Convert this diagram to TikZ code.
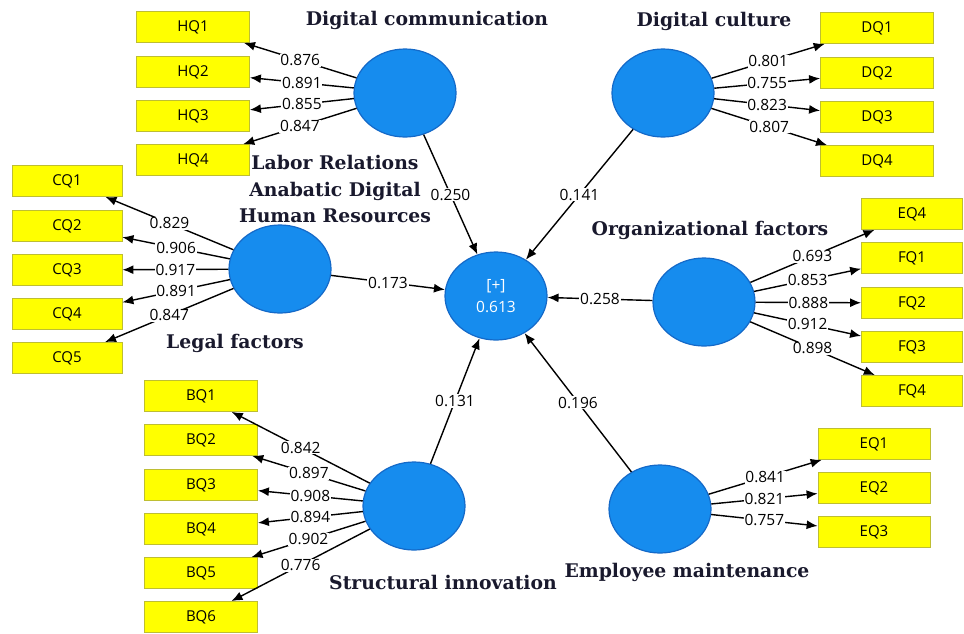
\documentclass[tikz,border=0pt]{standalone}
\usepackage{fontspec}
\setmainfont{DejaVu Serif}
\newfontfamily\lblfont{Open Sans}
\usetikzlibrary{arrows.meta,shapes.geometric}
\definecolor{lvfill}{RGB}{22,140,238}
\definecolor{lvdraw}{RGB}{20,105,200}
\definecolor{boxfill}{RGB}{255,255,0}
\definecolor{boxdraw}{RGB}{190,190,50}
\definecolor{ttl}{RGB}{25,25,45}
\begin{document}
\begin{tikzpicture}[x=1pt,y=-1pt,
  lv/.style={shape=ellipse, draw=lvdraw, line width=1.2pt, fill=lvfill, minimum width=102pt, minimum height=88pt, inner sep=0pt},
  ind/.style={draw=boxdraw, line width=0.8pt, fill=boxfill, minimum width=113pt, minimum height=31pt, inner sep=0pt, font=\lblfont\fontsize{15}{15}\selectfont},
  ld/.style={-{Latex[length=11pt,width=9pt]}, line width=1.4pt},
  val/.style={midway, fill=white, inner sep=0.8pt, font=\lblfont\fontsize{15.5}{15.5}\selectfont},
  ttlbox/.style={font=\bfseries\fontsize{18.8}{26.5}\selectfont, text=ttl, align=center, inner sep=0pt}
]
\useasboundingbox (0,0) rectangle (964,633);

% latent variables
\node[lv] (dcom) at (405,93) {};
\node[lv] (dcul) at (663,93) {};
\node[lv] (legal) at (280,269) {};
\node[lv, font=\lblfont\fontsize{15.5}{22}\selectfont, text=white, align=center] (cen) at (496,296) {[+]\\0.613};
\node[lv] (org) at (704,302) {};
\node[lv] (stru) at (414,506) {};
\node[lv] (emp) at (660,509) {};

% titles
\node[ttlbox] (t1) at (427,20) {Digital communication};
\node[ttlbox] (t2) at (714,21) {Digital culture};
\node[ttlbox] (t3) at (335,189) {Labor Relations\\Anabatic Digital\\Human Resources};
\node[ttlbox] (t4) at (710,230) {Organizational factors};
\node[ttlbox] (t5) at (235,343) {Legal factors};
\node[ttlbox] (t6) at (443,582) {Structural innovation};
\node[ttlbox] (t7) at (687,572) {Employee maintenance};

% indicators
\node[ind] (hq1) at (193,27) {HQ1};
\node[ind] (hq2) at (193,72) {HQ2};
\node[ind] (hq3) at (193,116) {HQ3};
\node[ind] (hq4) at (193,160) {HQ4};

\node[ind] (dq1) at (877,28) {DQ1};
\node[ind] (dq2) at (877,73) {DQ2};
\node[ind] (dq3) at (877,117) {DQ3};
\node[ind] (dq4) at (877,161) {DQ4};

\node[ind, minimum width=110pt] (cq1) at (67,181) {CQ1};
\node[ind, minimum width=110pt] (cq2) at (67,226) {CQ2};
\node[ind, minimum width=110pt] (cq3) at (67,270) {CQ3};
\node[ind, minimum width=110pt] (cq4) at (67,314) {CQ4};
\node[ind, minimum width=110pt] (cq5) at (67,358) {CQ5};

\node[ind, minimum width=101pt] (eq4) at (912,214) {EQ4};
\node[ind, minimum width=101pt] (fq1) at (912,258) {FQ1};
\node[ind, minimum width=101pt] (fq2) at (912,303) {FQ2};
\node[ind, minimum width=101pt] (fq3) at (912,347) {FQ3};
\node[ind, minimum width=101pt] (fq4) at (912,391) {FQ4};

\node[ind] (bq1) at (201,396) {BQ1};
\node[ind] (bq2) at (201,440) {BQ2};
\node[ind] (bq3) at (201,485) {BQ3};
\node[ind] (bq4) at (201,529) {BQ4};
\node[ind] (bq5) at (201,573) {BQ5};
\node[ind] (bq6) at (201,617) {BQ6};

\node[ind, minimum width=112pt] (eq1) at (874,444) {EQ1};
\node[ind, minimum width=112pt] (eq2) at (874,488) {EQ2};
\node[ind, minimum width=112pt] (eq3) at (874,532) {EQ3};

% outer loadings
\draw[ld] (dcom) -- node[val]{0.876} (hq1);
\draw[ld] (dcom) -- node[val]{0.891} (hq2);
\draw[ld] (dcom) -- node[val]{0.855} (hq3);
\draw[ld] (dcom) -- node[val]{0.847} (hq4);

\draw[ld] (dcul) -- node[val]{0.801} (dq1);
\draw[ld] (dcul) -- node[val]{0.755} (dq2);
\draw[ld] (dcul) -- node[val]{0.823} (dq3);
\draw[ld] (dcul) -- node[val]{0.807} (dq4);

\draw[ld] (legal) -- node[val]{0.829} (cq1);
\draw[ld] (legal) -- node[val]{0.906} (cq2);
\draw[ld] (legal) -- node[val]{0.917} (cq3);
\draw[ld] (legal) -- node[val]{0.891} (cq4);
\draw[ld] (legal) -- node[val]{0.847} (cq5);

\draw[ld] (org) -- node[val]{0.693} (eq4);
\draw[ld] (org) -- node[val]{0.853} (fq1);
\draw[ld] (org) -- node[val]{0.888} (fq2);
\draw[ld] (org) -- node[val]{0.912} (fq3);
\draw[ld] (org) -- node[val]{0.898} (fq4);

\draw[ld] (stru) -- node[val]{0.842} (bq1);
\draw[ld] (stru) -- node[val]{0.897} (bq2);
\draw[ld] (stru) -- node[val]{0.908} (bq3);
\draw[ld] (stru) -- node[val]{0.894} (bq4);
\draw[ld] (stru) -- node[val]{0.902} (bq5);
\draw[ld] (stru) -- node[val]{0.776} (bq6);

\draw[ld] (emp) -- node[val]{0.841} (eq1);
\draw[ld] (emp) -- node[val]{0.821} (eq2);
\draw[ld] (emp) -- node[val]{0.757} (eq3);

% path coefficients
\draw[ld] (dcom) -- node[val]{0.250} (cen);
\draw[ld] (dcul) -- node[val]{0.141} (cen);
\draw[ld] (legal) -- node[val]{0.173} (cen);
\draw[ld] (org) -- node[val]{0.258} (cen);
\draw[ld] (stru) -- node[val]{0.131} (cen);
\draw[ld] (emp) -- node[val]{0.196} (cen);
\end{tikzpicture}
\end{document}
